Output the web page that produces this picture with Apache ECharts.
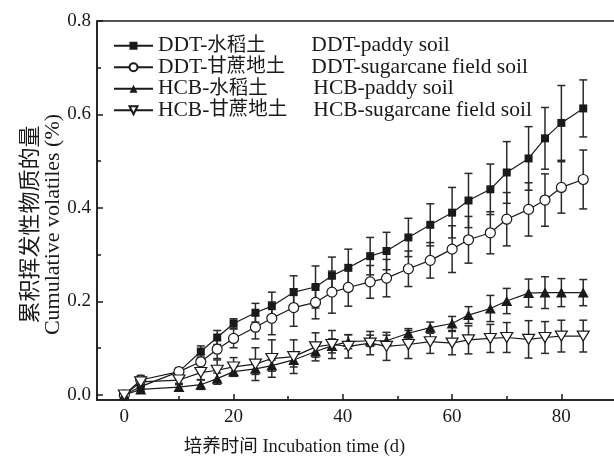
<!DOCTYPE html>
<html><head><meta charset="utf-8">
<script src="https://cdn.jsdelivr.net/npm/echarts@6/dist/echarts.min.js"></script>
<style>html,body{margin:0;padding:0;background:#fff}#c{width:614px;height:458px}</style>
</head><body><div id="c"></div>
<script>
const days = [0,3,10,14,17,20,24,27,31,35,38,41,45,48,52,56,60,63,67,70,74,77,80,84];
const ddtPaddy = [0,0.018,0.05,0.093,0.123,0.153,0.176,0.19,0.22,0.231,0.255,0.272,0.297,0.308,0.337,0.364,0.39,0.416,0.44,0.476,0.506,0.549,0.582,0.613];
const ddtPaddyErr = [0,0.01,0.008,0.012,0.015,0.01,0.02,0.03,0.035,0.045,0.04,0.04,0.04,0.04,0.041,0.045,0.054,0.058,0.054,0.066,0.068,0.066,0.08,0.061];
const ddtSugar = [0,0.032,0.05,0.071,0.098,0.121,0.145,0.164,0.187,0.198,0.22,0.23,0.242,0.25,0.27,0.288,0.312,0.332,0.347,0.376,0.397,0.417,0.444,0.461];
const ddtSugarErr = [0,0.01,0.008,0.015,0.02,0.02,0.025,0.035,0.04,0.035,0.045,0.04,0.035,0.04,0.038,0.038,0.05,0.05,0.045,0.057,0.057,0.056,0.055,0.063];
const hcbPaddy = [0,0.012,0.017,0.022,0.035,0.05,0.056,0.063,0.075,0.093,0.105,0.114,0.116,0.116,0.132,0.144,0.153,0.171,0.185,0.201,0.218,0.219,0.219,0.219];
const hcbPaddyErr = [0,0.005,0.008,0.01,0.012,0.01,0.012,0.012,0.015,0.012,0.015,0.015,0.012,0.012,0.01,0.012,0.015,0.018,0.028,0.027,0.03,0.034,0.03,0.028];
const hcbSugar = [0,0.028,0.032,0.048,0.053,0.06,0.066,0.078,0.082,0.103,0.108,0.104,0.111,0.104,0.108,0.114,0.111,0.118,0.121,0.123,0.119,0.123,0.126,0.126];
const hcbSugarErr = [0,0.008,0.01,0.015,0.022,0.02,0.035,0.04,0.036,0.03,0.03,0.025,0.025,0.03,0.03,0.025,0.025,0.03,0.03,0.032,0.04,0.034,0.034,0.034];

const seriesNamesZh = ['DDT-水稻土','DDT-甘蔗地土','HCB-水稻土','HCB-甘蔗地土'];
const seriesNamesEn = ['DDT-paddy soil','DDT-sugarcane field soil','HCB-paddy soil','HCB-sugarcane field soil'];
const xTicks = [0,20,40,60,80];
const xMinorTicks = [10,30,50,70];
const yTicks = [0,0.2,0.4,0.6,0.8];
const yMinorTicks = [0.1,0.3,0.5,0.7];
const xName = '培养时间 Incubation time (d)';
const yName = '累积挥发性物质的量\nCumulative volatiles (%)';

const FONT = '"Liberation Serif", "Noto Sans CJK SC", serif';
const INK = '#1a1a1a';

const values = [ddtPaddy, ddtSugar, hcbPaddy, hcbSugar];
const errs = [ddtPaddyErr, ddtSugarErr, hcbPaddyErr, hcbSugarErr];
const symbols = [
  {symbol:'rect', size:8, fill:INK, rotate:0},
  {symbol:'circle', size:10, fill:'#fff', rotate:0},
  {symbol:'triangle', size:[11,10], fill:INK, rotate:0},
  {symbol:'triangle', size:[12,10], fill:'#fff', rotate:180}
];

const series = [];
values.forEach((vals, i) => {
  series.push({
    type:'custom', name: seriesNamesZh[i] + '_err', z:1, silent:true,
    data: days.map((d,k)=>[d, vals[k]-errs[i][k], vals[k]+errs[i][k]]),
    renderItem: function(params, api){
      const x = api.value(0);
      const lo = api.coord([x, api.value(1)]);
      const hi = api.coord([x, api.value(2)]);
      const hw = 4;
      const style = {stroke: '#2a2a2a', lineWidth: 1.5};
      return {type:'group', children:[
        {type:'line', shape:{x1:lo[0], y1:lo[1], x2:hi[0], y2:hi[1]}, style},
        {type:'line', shape:{x1:hi[0]-hw, y1:hi[1], x2:hi[0]+hw, y2:hi[1]}, style},
        {type:'line', shape:{x1:lo[0]-hw, y1:lo[1], x2:lo[0]+hw, y2:lo[1]}, style}
      ]};
    }
  });
});
values.forEach((vals, i) => {
  const s = symbols[i];
  series.push({
    type:'line', name: seriesNamesZh[i], z:3,
    data: days.map((d,k)=>[d, vals[k]]),
    symbol: s.symbol, symbolSize: s.size, symbolRotate: s.rotate, showAllSymbol:true,
    lineStyle:{color:INK, width:1.2},
    itemStyle:{color:s.fill, borderColor:INK, borderWidth: s.fill==='#fff'?1.2:0},
    emphasis:{disabled:true}, animation:false
  });
});

const richLegend = {
  l:{fontFamily:FONT, fontSize:21.5, color:INK, lineHeight:20},
  c:{width:104, fontFamily:FONT, fontSize:19.5, color:INK, lineHeight:20},
  b:{fontFamily:FONT, fontSize:21.5, color:INK, lineHeight:20}
};

const chart = echarts.init(document.getElementById('c'), null, {renderer:'canvas'});
chart.setOption({
  animation:false,
  backgroundColor:'#fff',
  grid:{left:97, top:21, right:-2, bottom:58, show:true, borderColor:INK, borderWidth:1.5, backgroundColor:'transparent',
        containLabel:false, outerBoundsMode:'none'},
  legend:{
    orient:'vertical', left:113, top:35, padding:0, itemGap:0, itemWidth:39, itemHeight:10,
    data: seriesNamesZh,
    formatter: function(n){
      const i = seriesNamesZh.indexOf(n);
      const k = n.indexOf('-') + 1;
      return '{l|'+n.slice(0,k)+'}{c|'+n.slice(k)+'}{b|'+seriesNamesEn[i]+'}';
    },
    textStyle:{fontFamily:FONT, fontSize:20, color:INK, lineHeight:20, rich:richLegend},
    selectedMode:false
  },
  xAxis:[{
    type:'value', min:-5, max:90, position:'bottom',
    axisLine:{show:true, onZero:false, lineStyle:{color:INK, width:1.5}},
    axisTick:{show:true, inside:true, length:6, customValues:xTicks, lineStyle:{color:INK, width:1.5}},
    axisLabel:{customValues:xTicks, fontFamily:FONT, fontSize:19, color:INK, margin:8},
    splitLine:{show:false},
    name:xName, nameLocation:'middle', nameGap:38, nameMoveOverlap:false,
    nameTextStyle:{fontFamily:FONT, fontSize:18.5, color:INK, padding:[0,124,0,0]}
  },{
    type:'value', min:-5, max:90, position:'bottom',
    axisLine:{show:false, onZero:false},
    axisTick:{show:true, inside:true, length:4, customValues:xMinorTicks, lineStyle:{color:INK, width:1.5}},
    axisLabel:{show:false}, splitLine:{show:false}
  }],
  yAxis:[{
    type:'value', min:-0.0107, max:0.8, position:'left',
    axisLine:{show:true, onZero:false, lineStyle:{color:INK, width:1.5}},
    axisTick:{show:true, inside:true, length:6, customValues:yTicks, lineStyle:{color:INK, width:1.5}},
    axisLabel:{customValues:yTicks, formatter:v=>v.toFixed(1), fontFamily:FONT, fontSize:19, color:INK, margin:6},
    splitLine:{show:false},
    name:yName, nameLocation:'middle', nameGap:33, nameRotate:90, nameMoveOverlap:false,
    nameTextStyle:{fontFamily:FONT, fontSize:22, color:INK, lineHeight:22, padding:[0,28,0,0], align:'center'}
  },{
    type:'value', min:-0.0107, max:0.8, position:'left',
    axisLine:{show:false, onZero:false},
    axisTick:{show:true, inside:true, length:4, customValues:yMinorTicks, lineStyle:{color:INK, width:1.5}},
    axisLabel:{show:false}, splitLine:{show:false}
  }],
  series: series.map(s => Object.assign(s, {xAxisIndex:0, yAxisIndex:0}))
});
</script></body></html>
